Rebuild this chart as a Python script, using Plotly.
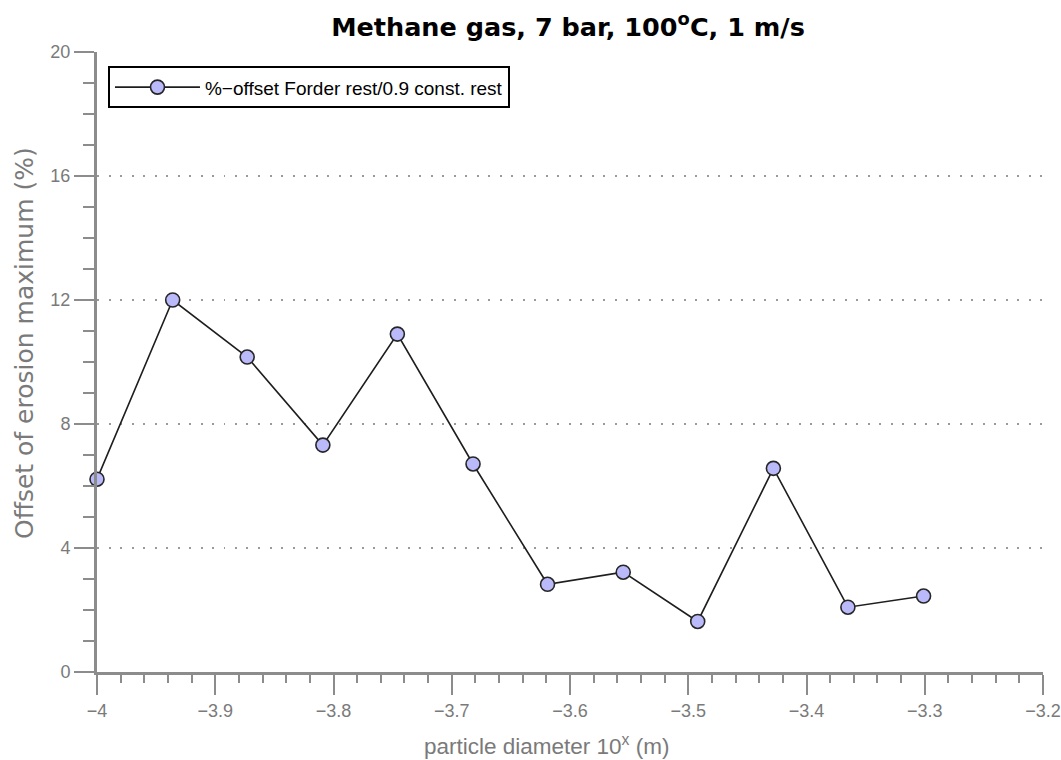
import plotly.graph_objects as go

# log10 of particle diameter (m) and offset of erosion maximum (%)
log_diameter = [-4.000, -3.936, -3.873, -3.809, -3.746, -3.682,
                -3.619, -3.555, -3.492, -3.428, -3.365, -3.301]
offset_pct = [6.22, 12.0, 10.16, 7.32, 10.90, 6.71,
              2.83, 3.22, 1.63, 6.57, 2.09, 2.45]

series_name = "%\u2212offset Forder rest/0.9 const. rest"
title_text = "<b>Methane gas, 7 bar, 100<sup>o</sup>C, 1 m/s</b>"
x_title = "particle diameter 10<sup>x</sup> (m)"
y_title = "Offset of erosion maximum (%)"

x_ticks = [-4, -3.9, -3.8, -3.7, -3.6, -3.5, -3.4, -3.3, -3.2]
x_ticklabels = ["\u22124", "\u22123.9", "\u22123.8", "\u22123.7", "\u22123.6",
                "\u22123.5", "\u22123.4", "\u22123.3", "\u22123.2"]
y_ticks = [0, 4, 8, 12, 16, 20]

axis_grey = "#8c8c8c"
text_grey = "#7a7a7a"
W, H = 1061, 760

fig = go.Figure()
fig.add_trace(go.Scatter(
    x=log_diameter, y=offset_pct, mode="lines+markers", name=series_name,
    line=dict(color="#1e1e1e", width=1.6),
    marker=dict(size=14, color="rgb(186,186,250)",
                line=dict(color="#262626", width=1.6)),
    cliponaxis=False,
))

# axis titles placed as annotations in pixel-based paper coordinates
fig.add_annotation(text=x_title, xref="paper", yref="paper",
                   x=(546 - 97) / 946, y=-(745 - 672) / 620,
                   xanchor="center", yanchor="middle", showarrow=False,
                   font=dict(size=22.5, color=text_grey,
                             family="Liberation Sans, Arial, sans-serif"))
fig.add_annotation(text=y_title, xref="paper", yref="paper",
                   x=-(97 - 24) / 946, y=(672 - 343) / 620,
                   xanchor="center", yanchor="middle", showarrow=False,
                   textangle=-90,
                   font=dict(size=25, color=text_grey,
                             family="DejaVu Sans, sans-serif"))

fig.update_layout(
    width=W, height=H,
    margin=dict(l=97, r=18, t=52, b=88, autoexpand=False),
    paper_bgcolor="white", plot_bgcolor="white",
    font=dict(family="Liberation Sans, Arial, sans-serif", color=text_grey),
    title=dict(text=title_text, x=(568 - 97) / 946, xref="paper",
               xanchor="center",
               y=1 - 27 / H, yref="container", yanchor="middle",
               font=dict(size=25.5, color="black",
                         family="DejaVu Sans, sans-serif")),
    showlegend=True,
    legend=dict(x=0.0116, y=0.977, xanchor="left", yanchor="top",
                bgcolor="white", bordercolor="black", borderwidth=2,
                font=dict(size=19, color="black"),
                itemwidth=85),
    xaxis=dict(
        range=[-4, -3.2], tickvals=x_ticks, ticktext=x_ticklabels,
        showgrid=False, zeroline=False,
        showline=True, linecolor=axis_grey, linewidth=3,
        ticks="outside", ticklen=20, tickwidth=2, tickcolor=axis_grey,
        tickfont=dict(size=18, color=text_grey),
        minor=dict(dtick=0.02, tick0=-4, ticks="outside", ticklen=8,
                   tickwidth=1.5, tickcolor=axis_grey, showgrid=False),
    ),
    yaxis=dict(
        range=[0, 20], tickvals=y_ticks,
        showgrid=True, gridcolor="#9a9a9a", gridwidth=2,
        griddash="2px,9.5px", zeroline=False,
        showline=True, linecolor=axis_grey, linewidth=3,
        ticks="outside", ticklen=20, tickwidth=2, tickcolor=axis_grey,
        tickfont=dict(size=18, color=text_grey),
        minor=dict(dtick=1, tick0=0, ticks="outside", ticklen=11,
                   tickwidth=2, tickcolor=axis_grey, showgrid=False),
    ),
)

fig.write_html("out.html")
